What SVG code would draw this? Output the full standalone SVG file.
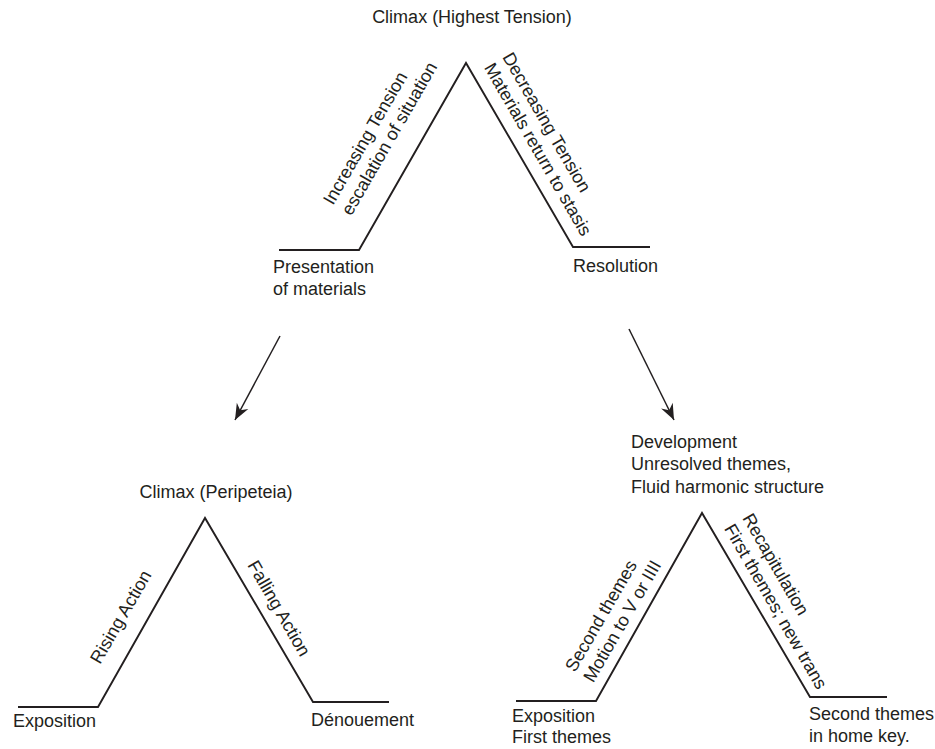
<svg xmlns="http://www.w3.org/2000/svg" width="935" height="749" viewBox="0 0 935 749">
  <style>
    text { font-family: "Liberation Sans", Arial, sans-serif; font-size: 18px; fill: #231f20; }
    .curve { fill: none; stroke: #231f20; stroke-width: 1.9; stroke-linejoin: miter; }
    .arrow { fill: none; stroke: #231f20; stroke-width: 1.5; marker-end: url(#head); }
  </style>
  <defs>
    <marker id="head" viewBox="-17 -8 18 16" refX="0" refY="0" markerWidth="18" markerHeight="16" markerUnits="userSpaceOnUse" orient="auto">
      <path d="M0,0 L-16,-6.5 L-11,0 L-16,6.5 Z" fill="#231f20"/>
    </marker>
  </defs>
  <rect width="935" height="749" fill="#ffffff"/>

  <!-- General dramatic arc -->
  <g id="arc-general">
    <polyline class="curve" points="279,250 359,250 466,63 573,247 650,247"/>
    <text x="472" y="23" text-anchor="middle">Climax (Highest Tension)</text>
    <text transform="translate(333,206) rotate(-60)"><tspan x="0" y="0">Increasing Tension</tspan><tspan x="0" y="21">escalation of situation</tspan></text>
    <text transform="translate(502,57) rotate(60)"><tspan x="0" y="0">Decreasing Tension</tspan><tspan x="0" y="21">Materials return to stasis</tspan></text>
    <text x="273" y="273">Presentation</text>
    <text x="273" y="295">of materials</text>
    <text x="573" y="272">Resolution</text>
  </g>

  <!-- Freytag pyramid -->
  <g id="arc-drama">
    <polyline class="curve" points="18,707 98,707 205,518 313,702 389,702"/>
    <text x="216" y="498" text-anchor="middle">Climax (Peripeteia)</text>
    <text transform="translate(100,665) rotate(-60)">Rising Action</text>
    <text transform="translate(247,565) rotate(60)">Falling Action</text>
    <text x="13" y="727">Exposition</text>
    <text x="311" y="726">Dénouement</text>
  </g>

  <!-- Sonata form -->
  <g id="arc-sonata">
    <polyline class="curve" points="516,701 596,701 702,513 810,697 887,697"/>
    <text x="631" y="448">Development</text>
    <text x="631" y="470">Unresolved themes,</text>
    <text x="631" y="493">Fluid harmonic structure</text>
    <text transform="translate(575,673) rotate(-60)"><tspan x="0" y="0">Second themes</tspan><tspan x="0" y="21">Motion to V or IIII</tspan></text>
    <text transform="translate(742,518) rotate(60)"><tspan x="0" y="0">Recapitulation</tspan><tspan x="0" y="21">First themes; new trans</tspan></text>
    <text x="512" y="722">Exposition</text>
    <text x="512" y="743">First themes</text>
    <text x="809" y="720">Second themes</text>
    <text x="809" y="742">in home key.</text>
  </g>

  <!-- Connectors -->
  <g id="connectors">
    <line class="arrow" x1="280" y1="336" x2="235" y2="420"/>
    <line class="arrow" x1="629" y1="329" x2="674" y2="420"/>
  </g>
</svg>
